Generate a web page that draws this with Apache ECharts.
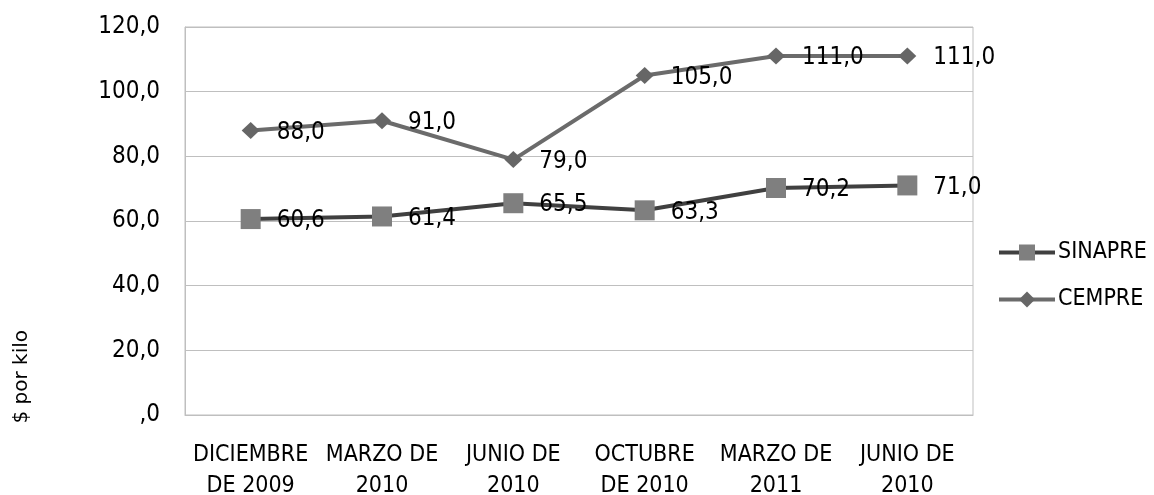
<!DOCTYPE html>
<html>
<head>
<meta charset="utf-8">
<script src="https://cdn.jsdelivr.net/npm/echarts@6/dist/echarts.min.js"></script>
<style>
  html, body { margin: 0; padding: 0; background: #fff; }
  #main { width: 1154px; height: 495px; }
</style>
</head>
<body>
<div id="main"></div>
<script>
// categorías del eje x
var categories = [
  "DICIEMBRE\nDE 2009",
  "MARZO DE\n2010",
  "JUNIO DE\n2010",
  "OCTUBRE\nDE 2010",
  "MARZO DE\n2011",
  "JUNIO DE\n2010"
];
// precios por kilo
var sinapre = [60.6, 61.4, 65.5, 63.3, 70.2, 71.0];
var cempre = [88.0, 91.0, 79.0, 105.0, 111.0, 111.0];
var yTicks = [0, 20, 40, 60, 80, 100, 120];

var FONT = "DejaVu Sans Condensed";

function fmt(v) {
  if (v === 0) return ",0";
  return v.toFixed(1).replace(".", ",");
}

var myChart = echarts.init(document.getElementById("main"));
myChart.setOption({
  animation: false,
  textStyle: { fontFamily: FONT },
  grid: {
    left: 185,
    top: 27,
    width: 788,
    height: 388,
    outerBoundsMode: "none",
    show: true,
    borderColor: "#bfbfbf",
    borderWidth: 1
  },
  legend: {
    orient: "vertical",
    left: 992,
    top: 236,
    itemWidth: 56,
    itemHeight: 20,
    itemGap: 24,
    textStyle: { fontFamily: FONT, fontSize: 23, color: "#000", padding: [0, 0, 0, -2] },
    data: [
      { name: "SINAPRE", lineStyle: { width: 4 } },
      { name: "CEMPRE", lineStyle: { width: 4 } }
    ]
  },
  graphic: [
    {
      type: "text",
      left: 12,
      top: 330,
      rotation: Math.PI / 2,
      style: { text: "$ por kilo", fontFamily: "DejaVu Sans", fontSize: 20, fill: "#000" }
    }
  ],
  xAxis: {
    type: "category",
    data: categories,
    boundaryGap: true,
    axisLine: { show: true, lineStyle: { color: "#bfbfbf" } },
    axisTick: { show: false },
    axisLabel: {
      interval: 0,
      color: "#000",
      fontFamily: FONT,
      fontSize: 23,
      lineHeight: 31,
      margin: 25
    }
  },
  yAxis: {
    type: "value",
    min: yTicks[0],
    max: yTicks[yTicks.length - 1],
    interval: 20,
    axisLine: { show: true, lineStyle: { color: "#bfbfbf" } },
    axisTick: { show: false },
    splitLine: { lineStyle: { color: "#bfbfbf" } },
    axisLabel: {
      color: "#000",
      fontFamily: FONT,
      fontSize: 24,
      margin: 25,
      formatter: fmt
    }
  },
  series: [
    {
      name: "SINAPRE",
      type: "line",
      data: sinapre,
      symbol: "rect",
      symbolSize: 20,
      lineStyle: { color: "#404040", width: 4 },
      itemStyle: { color: "#7f7f7f" },
      label: {
        show: true,
        position: "right",
        distance: 16,
        offset: [0, 2],
        color: "#000",
        fontFamily: FONT,
        fontSize: 24,
        formatter: function (p) { return fmt(p.value); }
      }
    },
    {
      name: "CEMPRE",
      type: "line",
      data: cempre,
      symbol: "diamond",
      symbolSize: [18, 17],
      lineStyle: { color: "#6b6b6b", width: 4 },
      itemStyle: { color: "#666666" },
      label: {
        show: true,
        position: "right",
        distance: 17,
        offset: [0, 2],
        color: "#000",
        fontFamily: FONT,
        fontSize: 24,
        formatter: function (p) { return fmt(p.value); }
      }
    }
  ]
});
</script>
</body>
</html>
